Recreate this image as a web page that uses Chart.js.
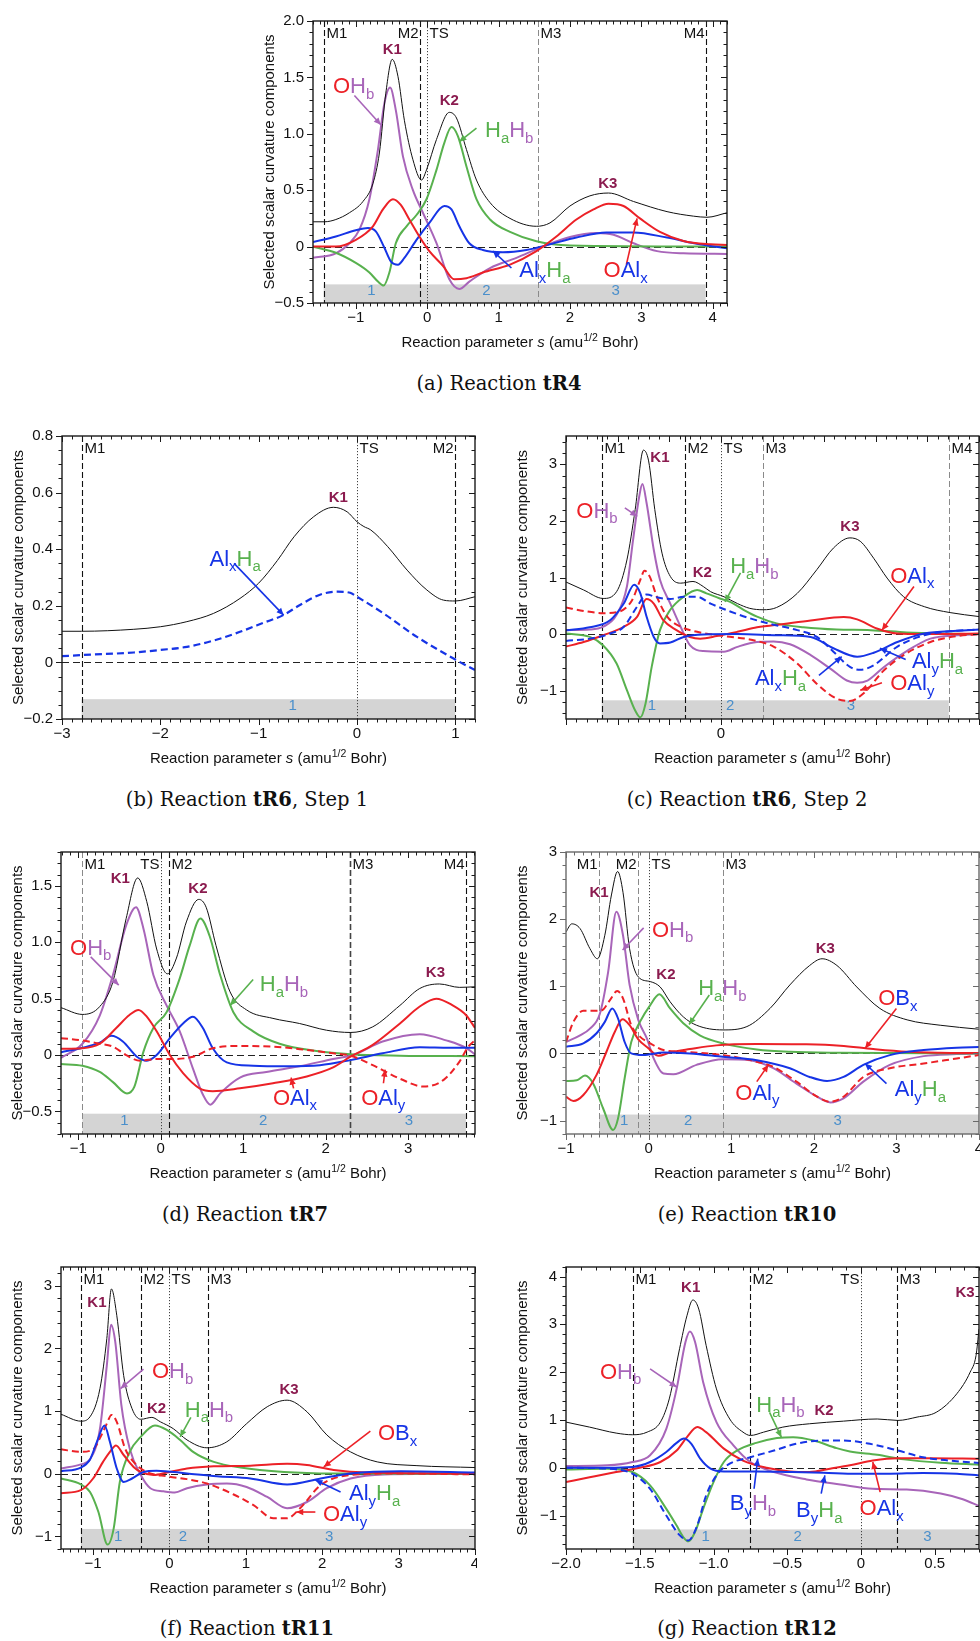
<!DOCTYPE html>
<html><head><meta charset="utf-8">
<script src="https://cdn.jsdelivr.net/npm/chart.js@4.4.1/dist/chart.umd.min.js"></script>
<style>
html,body{margin:0;padding:0;background:#fff}
body{width:980px;height:1641px;position:relative;overflow:hidden}
canvas{position:absolute}
.cap{position:absolute;width:440px;text-align:center;font-family:"DejaVu Serif","Liberation Serif",serif;font-size:19.5px;line-height:24px;color:#111;white-space:nowrap}
</style></head><body>
<script>
// ---------------- data ----------------
// (a) tR4
const aTotS=[-1.6,-1.44,-1.28,-1.09,-0.9,-0.76,-0.67,-0.58,-0.49,-0.41,-0.32,-0.2,-0.08,-0.01,0.13,0.31,0.41,0.55,0.69,0.88,1.16,1.53,1.72,2.0,2.28,2.54,2.89,3.36,3.73,3.92,4.2];
const aTotV=[0.22,0.22,0.24,0.30,0.40,0.56,0.83,1.36,1.66,1.51,1.12,0.77,0.59,0.68,0.95,1.19,1.14,0.86,0.59,0.39,0.25,0.18,0.21,0.36,0.45,0.475,0.40,0.31,0.27,0.26,0.30];
const aOHbS=[-1.6,-1.28,-1.09,-0.95,-0.81,-0.69,-0.6,-0.52,-0.44,-0.34,-0.2,-0.06,0.13,0.31,0.45,0.59,0.88,1.25,1.62,2.0,2.37,2.61,2.89,3.22,3.59,4.2];
const aOHbV=[-0.10,-0.06,0.03,0.15,0.42,0.86,1.27,1.41,1.21,0.80,0.50,0.30,0.03,-0.29,-0.375,-0.31,-0.19,-0.10,0.0,0.085,0.12,0.105,0.03,-0.04,-0.06,-0.065];
const aHHS=[-1.6,-1.28,-1.0,-0.81,-0.69,-0.61,-0.53,-0.44,-0.29,-0.15,-0.01,0.13,0.24,0.34,0.43,0.55,0.69,0.88,1.16,1.53,2.0,4.2];
const aHHV=[0,-0.055,-0.145,-0.23,-0.31,-0.345,-0.23,0.03,0.18,0.28,0.42,0.68,0.92,1.06,0.98,0.71,0.42,0.24,0.13,0.047,0.01,0];
const aAlHS=[-1.6,-1.28,-1.0,-0.83,-0.72,-0.6,-0.51,-0.41,-0.32,-0.15,0.03,0.24,0.34,0.45,0.59,0.78,1.06,1.39,1.72,2.09,2.51,2.89,3.36,3.82,4.2];
const aAlHV=[0.04,0.09,0.145,0.165,0.135,-0.01,-0.13,-0.16,-0.10,0.06,0.21,0.36,0.33,0.18,0.03,-0.03,-0.05,-0.03,0.02,0.08,0.125,0.125,0.08,0.02,-0.015];
const aOAlS=[-1.6,-1.28,-1.0,-0.76,-0.62,-0.48,-0.37,-0.25,-0.11,0.03,0.22,0.38,0.55,0.78,1.16,1.53,1.81,2.09,2.33,2.54,2.75,2.98,3.26,3.59,3.97,4.2];
const aOAlV=[0,0,0.06,0.18,0.33,0.42,0.37,0.24,0.09,-0.04,-0.17,-0.29,-0.28,-0.23,-0.16,-0.04,0.09,0.24,0.33,0.38,0.36,0.25,0.13,0.05,0.02,0.015];
const aXT=[-1,0,1,2,3,4], aXL=['−1','0','1','2','3','4'];
const aYT=[-0.5,0,0.5,1.0,1.5,2.0], aYL=['−0.5','0','0.5','1.0','1.5','2.0'];

// (b) tR6 step 1
const bTotS=[-3,-2.8,-2.27,-2.0,-1.73,-1.46,-1.19,-1.0,-0.81,-0.64,-0.44,-0.24,-0.1,0,0.07,0.14,0.31,0.51,0.71,0.88,1.0,1.2];
const bTotV=[0.11,0.11,0.117,0.126,0.144,0.173,0.226,0.28,0.36,0.444,0.515,0.548,0.532,0.497,0.48,0.468,0.41,0.326,0.256,0.22,0.217,0.232];
const bAlHS=[-3,-2.8,-2.27,-2.0,-1.73,-1.46,-1.19,-0.95,-0.75,-0.58,-0.37,-0.2,-0.07,0,0.27,0.61,1.0,1.2];
const bAlHV=[0.022,0.026,0.035,0.044,0.055,0.077,0.108,0.14,0.167,0.203,0.24,0.25,0.246,0.232,0.173,0.09,0.01,-0.027];
const bXT=[-3,-2,-1,0,1], bXL=['−3','−2','−1','0','1'];
const bYT=[-0.2,0,0.2,0.4,0.6,0.8], bYL=['−0.2','0','0.2','0.4','0.6','0.8'];

// (c) tR6 step 2
const cTotS=[-1.5,-1.33,-1.14,-1.01,-0.91,-0.83,-0.75,-0.70,-0.64,-0.57,-0.49,-0.39,-0.27,-0.17,-0.10,0.03,0.16,0.28,0.41,0.54,0.74,0.93,1.09,1.25,1.35,1.48,1.61,1.77,1.97,2.22,2.5];
const cTotV=[0.92,0.78,0.63,0.75,1.31,2.2,3.25,3.06,2.2,1.43,1.02,0.90,0.93,0.84,0.75,0.66,0.54,0.455,0.43,0.47,0.72,1.14,1.52,1.70,1.64,1.34,0.99,0.66,0.485,0.38,0.31];
const cOHbS=[-1.5,-1.27,-1.14,-1.01,-0.91,-0.85,-0.79,-0.76,-0.72,-0.65,-0.59,-0.49,-0.39,-0.30,-0.17,0.03,0.16,0.35,0.51,0.67,0.87,1.06,1.22,1.32,1.42,1.58,1.80,2.03,2.29,2.5];
const cOHbV=[0.07,0.08,0.13,0.34,0.84,1.67,2.44,2.65,2.32,1.49,0.96,0.54,0.13,-0.195,-0.30,-0.31,-0.225,-0.14,-0.13,-0.18,-0.37,-0.61,-0.82,-0.86,-0.82,-0.58,-0.30,-0.08,-0.02,0];
const cHHS=[-1.5,-1.27,-1.14,-1.01,-0.91,-0.83,-0.78,-0.73,-0.67,-0.59,-0.49,-0.36,-0.23,-0.14,-0.01,0.09,0.22,0.35,0.54,0.80,1.12,1.45,1.80,2.13,2.5];
const cHHV=[0.01,-0.05,-0.2,-0.52,-0.99,-1.35,-1.47,-1.23,-0.58,0.07,0.43,0.66,0.78,0.72,0.63,0.57,0.43,0.31,0.19,0.12,0.08,0.07,0.03,0.01,0];
const cOAlxS=[-1.5,-1.33,-1.14,-0.94,-0.81,-0.72,-0.65,-0.56,-0.43,-0.30,-0.20,-0.04,0.16,0.35,0.61,0.87,1.19,1.32,1.51,1.71,1.97,2.5];
const cOAlxV=[-0.22,-0.14,-0.02,0.13,0.31,0.62,0.54,0.25,0.07,-0.05,-0.08,-0.035,0.04,0.12,0.18,0.24,0.30,0.26,0.10,0.01,0,0.01];
const cOAlyS=[-1.5,-1.33,-1.14,-0.98,-0.86,-0.78,-0.74,-0.69,-0.62,-0.52,-0.39,-0.23,0.03,0.28,0.51,0.74,0.93,1.12,1.25,1.38,1.58,1.77,2.03,2.29,2.5];
const cOAlyV=[0.47,0.41,0.37,0.40,0.60,0.96,1.12,1.02,0.66,0.31,0.13,0.04,-0.035,-0.095,-0.22,-0.52,-0.88,-1.14,-1.18,-1.05,-0.64,-0.37,-0.14,-0.035,0];
const cAlyS=[-1.5,-1.27,-1.07,-0.94,-0.84,-0.78,-0.72,-0.65,-0.59,-0.49,-0.36,-0.17,0.16,0.54,0.87,1.09,1.32,1.48,1.71,1.97,2.29,2.5];
const cAlyV=[0.07,0.12,0.25,0.54,0.87,0.72,0.31,-0.05,-0.165,-0.15,-0.05,-0.005,0,-0.02,-0.05,-0.25,-0.40,-0.33,-0.14,0.01,0.06,0.08];
const cAlxS=[-1.5,-1.27,-1.07,-0.94,-0.81,-0.72,-0.62,-0.49,-0.36,-0.23,-0.10,0.09,0.28,0.48,0.74,0.93,1.09,1.25,1.35,1.48,1.71,1.97,2.29,2.5];
const cAlxV=[-0.12,-0.08,0.01,0.13,0.49,0.70,0.65,0.62,0.66,0.66,0.54,0.40,0.28,0.18,0.07,-0.05,-0.31,-0.58,-0.63,-0.55,-0.22,-0.02,0.06,0.08];
const cXT=[0], cXL=['0'];
const cYT=[-1,0,1,2,3], cYL=['−1','0','1','2','3'];

// (d) tR7
const dTotS=[-1.21,-0.95,-0.74,-0.58,-0.42,-0.28,-0.17,-0.05,0.08,0.19,0.31,0.46,0.55,0.67,0.84,1.04,1.36,1.68,2.01,2.30,2.57,2.90,3.14,3.38,3.62,3.81];
const dTotV=[0.42,0.36,0.43,0.65,1.21,1.57,1.36,0.94,0.72,0.86,1.18,1.38,1.31,0.97,0.56,0.40,0.325,0.28,0.22,0.20,0.25,0.44,0.59,0.63,0.60,0.605];
const dOHbS=[-1.21,-0.95,-0.74,-0.58,-0.42,-0.30,-0.21,-0.09,0.07,0.23,0.39,0.51,0.60,0.72,0.96,1.28,1.68,2.09,2.33,2.69,3.14,3.46,3.71,3.81];
const dOHbV=[-0.025,0.10,0.35,0.71,1.15,1.31,1.12,0.71,0.44,0.21,-0.12,-0.35,-0.44,-0.34,-0.20,-0.15,-0.10,-0.035,0,0.12,0.185,0.13,0.06,0.005];
const dHHS=[-1.21,-0.95,-0.74,-0.58,-0.41,-0.32,-0.21,-0.09,0.07,0.23,0.35,0.48,0.59,0.72,0.88,1.12,1.44,1.89,2.30,2.90,3.81];
const dHHV=[-0.08,-0.095,-0.15,-0.24,-0.34,-0.28,0.03,0.24,0.38,0.68,0.97,1.21,1.06,0.71,0.38,0.21,0.10,0.035,0.006,-0.006,-0.01];
const dAlS=[-1.21,-0.95,-0.74,-0.60,-0.46,-0.29,-0.17,-0.05,0.11,0.27,0.39,0.51,0.63,0.80,1.12,1.52,1.93,2.30,2.69,3.14,3.50,3.81];
const dAlV=[0.025,0.065,0.11,0.17,0.12,-0.015,-0.05,0,0.15,0.28,0.34,0.24,0.06,-0.065,-0.095,-0.10,-0.09,-0.045,0.015,0.07,0.065,0.065];
const dOAlxS=[-1.21,-0.95,-0.74,-0.54,-0.38,-0.27,-0.17,-0.05,0.11,0.27,0.47,0.63,0.96,1.36,1.77,2.09,2.30,2.57,2.90,3.14,3.34,3.54,3.70,3.81];
const dOAlxV=[0.055,0.06,0.10,0.24,0.355,0.40,0.34,0.21,0,-0.16,-0.295,-0.32,-0.295,-0.25,-0.19,-0.11,-0.015,0.09,0.28,0.43,0.50,0.44,0.355,0.24];
const dOAlyS=[-1.21,-0.95,-0.74,-0.58,-0.42,-0.25,-0.05,0.15,0.39,0.63,0.96,1.36,1.77,2.09,2.30,2.57,2.90,3.19,3.43,3.62,3.73,3.81];
const dOAlyV=[0.15,0.13,0.10,0.075,0,-0.05,-0.035,-0.035,-0.015,0.06,0.08,0.075,0.045,0.015,-0.005,-0.09,-0.21,-0.28,-0.22,-0.06,0.075,0.13];
const dXT=[-1,0,1,2,3], dXL=['−1','0','1','2','3'];
const dYT=[-0.5,0,0.5,1.0,1.5], dYL=['−0.5','0','0.5','1.0','1.5'];

// (e) tR10
const eTotS=[-1.0,-0.93,-0.83,-0.71,-0.62,-0.53,-0.45,-0.375,-0.31,-0.23,-0.125,0.02,0.14,0.26,0.42,0.58,0.90,1.19,1.47,1.71,1.95,2.10,2.28,2.52,2.80,3.13,3.53,4.0];
const eTotV=[1.81,1.93,1.86,1.56,1.41,1.76,2.36,2.71,2.40,1.56,1.14,1.07,0.99,0.77,0.545,0.42,0.35,0.40,0.67,1.02,1.31,1.41,1.31,0.99,0.67,0.50,0.42,0.36];
const eOHbS=[-1.0,-0.83,-0.71,-0.59,-0.49,-0.39,-0.31,-0.23,-0.125,-0.02,0.06,0.18,0.30,0.58,0.90,1.23,1.51,1.79,2.04,2.20,2.36,2.60,2.92,3.33,3.73,4.0];
const eOHbV=[0.17,0.27,0.37,0.59,1.21,2.11,1.76,1.02,0.50,0.22,-0.07,-0.30,-0.31,-0.17,-0.085,-0.10,-0.22,-0.45,-0.645,-0.73,-0.67,-0.42,-0.17,-0.04,-0.01,0];
const eHHS=[-1.0,-0.87,-0.77,-0.67,-0.55,-0.43,-0.37,-0.29,-0.21,-0.105,0.02,0.13,0.26,0.42,0.62,0.90,1.31,1.71,2.32,4.0];
const eHHV=[-0.41,-0.40,-0.33,-0.45,-0.82,-1.14,-0.97,-0.37,0.17,0.47,0.72,0.88,0.67,0.45,0.27,0.15,0.06,0.025,0.01,0];
const eOBxS=[-1.0,-0.91,-0.79,-0.63,-0.51,-0.41,-0.315,-0.23,-0.125,0,0.12,0.26,0.50,0.82,1.31,1.91,2.32,2.72,3.13,3.53,4.0];
const eOBxV=[-0.645,-0.71,-0.62,-0.32,0.025,0.32,0.51,0.42,0.21,0.075,-0.035,0.015,0.065,0.12,0.14,0.135,0.115,0.065,0.025,0.01,0.005];
const eOAlyS=[-1.0,-0.91,-0.79,-0.67,-0.57,-0.47,-0.38,-0.31,-0.21,-0.105,0.02,0.18,0.42,0.90,1.23,1.51,1.79,2.04,2.20,2.36,2.60,2.92,3.33,3.73,4.0];
const eOAlyV=[0.17,0.47,0.635,0.635,0.64,0.79,0.93,0.82,0.42,0.25,0.15,0.05,0.025,-0.025,-0.10,-0.20,-0.42,-0.645,-0.72,-0.645,-0.35,-0.22,-0.15,-0.075,-0.025];
const eAlyS=[-1.0,-0.79,-0.63,-0.53,-0.44,-0.37,-0.29,-0.21,-0.065,0.18,0.50,0.90,1.31,1.71,1.95,2.16,2.36,2.60,2.92,3.33,3.73,4.0];
const eAlyV=[0.10,0.15,0.30,0.47,0.67,0.52,0.17,0,-0.025,0.015,0,-0.05,-0.10,-0.22,-0.35,-0.41,-0.35,-0.17,-0.025,0.05,0.085,0.095];
const eXT=[-1,0,1,2,3,4], eXL=['−1','0','1','2','3','4'];
const eYT=[-1,0,1,2,3], eYL=['−1','0','1','2','3'];

// (f) tR11
const fTotS=[-1.42,-1.16,-1.04,-0.91,-0.82,-0.76,-0.69,-0.60,-0.49,-0.376,-0.23,-0.12,0.05,0.23,0.49,0.75,1.01,1.28,1.54,1.80,2.06,2.37,2.72,3.24,4.0];
const fTotV=[0.95,0.84,0.91,1.36,2.16,2.95,2.53,1.57,1.04,0.87,0.90,0.83,0.72,0.54,0.415,0.51,0.80,1.07,1.175,0.99,0.62,0.35,0.19,0.13,0.10];
const fOHbS=[-1.42,-1.16,-1.04,-0.91,-0.82,-0.765,-0.71,-0.63,-0.52,-0.376,-0.25,-0.08,0.07,0.23,0.49,0.75,1.01,1.28,1.54,1.80,2.06,2.37,2.81,4.0];
const fOHbV=[0.085,0.15,0.23,0.72,1.73,2.38,2.11,1.10,0.40,-0.02,-0.23,-0.28,-0.30,-0.23,-0.17,-0.155,-0.21,-0.37,-0.55,-0.45,-0.23,-0.075,-0.01,0];
const fHHS=[-1.42,-1.16,-1.04,-0.93,-0.81,-0.73,-0.65,-0.52,-0.376,-0.19,-0.035,0.14,0.31,0.58,0.93,1.50,2.15,4.0];
const fHHV=[-0.075,-0.17,-0.29,-0.61,-1.13,-0.87,-0.13,0.35,0.59,0.77,0.70,0.54,0.35,0.19,0.10,0.03,0.005,0];
const fOBxS=[-1.42,-1.16,-1.0,-0.87,-0.78,-0.70,-0.60,-0.47,-0.376,-0.21,-0.035,0.23,0.58,1.06,1.54,1.80,2.15,2.59,4.0];
const fOBxV=[-0.31,-0.26,-0.075,0.19,0.35,0.45,0.30,0.11,0.03,-0.02,0.02,0.085,0.12,0.13,0.16,0.14,0.06,0.02,0.005];
const fOAlyS=[-1.42,-1.16,-1.0,-0.89,-0.82,-0.76,-0.69,-0.58,-0.47,-0.30,-0.035,0.23,0.49,0.84,1.10,1.36,1.54,1.71,1.98,2.37,3.03,4.0];
const fOAlyV=[0.39,0.35,0.39,0.62,0.80,0.94,0.83,0.40,0.19,0.03,-0.04,-0.085,-0.155,-0.33,-0.50,-0.71,-0.71,-0.55,-0.18,-0.02,0.005,-0.01];
const fAlyS=[-1.42,-1.16,-1.04,-0.95,-0.85,-0.78,-0.69,-0.60,-0.49,-0.34,-0.17,0.23,0.62,1.06,1.54,1.98,2.37,3.03,4.0];
const fAlyV=[0.04,0.10,0.23,0.51,0.77,0.51,0.085,-0.13,-0.075,0.03,0.05,0.005,-0.04,-0.075,-0.17,-0.075,0.005,0.04,0.02];
const fXT=[-1,0,1,2,3,4], fXL=['−1','0','1','2','3','4'];
const fYT=[-1,0,1,2,3], fYL=['−1','0','1','2','3'];

// (g) tR12
const gTotS=[-2.0,-1.84,-1.66,-1.55,-1.45,-1.36,-1.30,-1.23,-1.18,-1.14,-1.10,-1.05,-0.98,-0.89,-0.80,-0.75,-0.66,-0.53,-0.35,-0.12,0.11,0.25,0.38,0.51,0.65,0.74,0.78,0.80];
const gTotV=[0.955,0.85,0.725,0.69,0.745,0.955,1.44,2.49,3.18,3.51,3.32,2.56,1.65,1.02,0.745,0.675,0.745,0.85,0.92,0.975,1.02,0.99,1.06,1.16,1.55,2.0,2.35,2.9];
const gOHbS=[-2.0,-1.72,-1.55,-1.43,-1.32,-1.25,-1.19,-1.16,-1.125,-1.07,-0.98,-0.865,-0.75,-0.59,-0.37,-0.14,0.08,0.31,0.54,0.69,0.80];
const gOHbV=[0.035,0.05,0.12,0.26,0.815,1.65,2.63,2.85,2.63,1.79,0.955,0.47,0.12,-0.09,-0.245,-0.35,-0.44,-0.455,-0.54,-0.66,-0.80];
const gHHS=[-2.0,-1.72,-1.55,-1.43,-1.32,-1.25,-1.205,-1.17,-1.125,-1.07,-1.0,-0.93,-0.84,-0.71,-0.57,-0.46,-0.32,-0.165,-0.075,0.11,0.29,0.54,0.80];
const gHHV=[-0.035,-0.02,-0.09,-0.37,-0.86,-1.21,-1.45,-1.54,-1.345,-0.86,-0.30,0.12,0.36,0.52,0.62,0.64,0.57,0.41,0.34,0.27,0.175,0.105,0.065];
const gByHbS=[-2.0,-1.72,-1.55,-1.43,-1.32,-1.23,-1.17,-1.11,-1.05,-0.98,-0.89,-0.75,-0.59,-0.44,-0.255,-0.12,0.06,0.25,0.42,0.60,0.80];
const gByHbV=[0,-0.02,-0.125,-0.44,-1.0,-1.41,-1.52,-1.205,-0.58,-0.16,0.085,0.22,0.36,0.50,0.57,0.57,0.50,0.36,0.22,0.15,0.10];
const gByHaS=[-2.0,-1.72,-1.55,-1.43,-1.32,-1.25,-1.20,-1.15,-1.09,-1.02,-0.93,-0.71,-0.48,-0.255,-0.03,0.20,0.42,0.65,0.80];
const gByHaV=[0,0,0.015,0.12,0.33,0.52,0.61,0.50,0.19,-0.02,-0.077,-0.077,-0.09,-0.105,-0.125,-0.125,-0.11,-0.125,-0.16];
const gOAlxS=[-2.0,-1.84,-1.66,-1.50,-1.36,-1.25,-1.18,-1.11,-1.05,-0.93,-0.80,-0.64,-0.48,-0.35,-0.21,-0.075,0.08,0.25,0.47,0.80];
const gOAlxV=[-0.30,-0.20,-0.09,0,0.12,0.36,0.64,0.85,0.745,0.40,0.15,0,-0.077,-0.09,-0.02,0.05,0.15,0.20,0.20,0.19];
const gXT=[-2,-1.5,-1,-0.5,0,0.5], gXL=['−2.0','−1.5','−1.0','−0.5','0','0.5'];
const gYT=[-1,0,1,2,3,4], gYL=['−1','0','1','2','3','4'];

// ---------------- styling ----------------
const RED='#ec2127', PURPLE='#a865b9', GREEN='#58b14e', BLUE='#1634e6', BLACK='#111111';
const KCOL='#8b1b4f', NCOL='#4a8fcb', BAND='#d4d4d4';
const SANS='"Liberation Sans", Arial, Helvetica, sans-serif';
const YTITLE='Selected scalar curvature components';

const S=(s,v,c,w,d)=>({s,v,c,w,d});
const panels=[
 {plot:[313,21,727,303],x:[-1.6,4.2],y:[-0.5,2.0],xt:aXT,xl:aXL,yt:aYT,yl:aYL,xM:1,xm:0.1,yM:0.5,ym:0.1,
  series:[S(aTotS,aTotV,BLACK,1),S(aOAlS,aOAlV,RED,2),S(aAlHS,aAlHV,BLUE,2),S(aHHS,aHHV,GREEN,2),S(aOHbS,aOHbV,PURPLE,2)],
  vl:[[-1.45,'M1','r','k'],[-0.10,'M2','l','k'],[0,'TS','r','dot'],[1.555,'M3','r','g'],[3.90,'M4','l','k']],
  band:{x1:-1.45,x2:3.90,top:-0.335,ny:-0.39,nums:[[-0.78,'1'],[0.83,'2'],[2.64,'3']]},
  K:[[-0.49,1.745,'K1'],[0.31,1.29,'K2'],[2.53,0.555,'K3']],
  lab:[['O H_b',-1.32,1.43,[-1.02,1.34,-0.65,1.08],PURPLE],['H_a H_b',0.81,1.04,[0.69,1.05,0.45,0.93],GREEN],
       ['Al_x H_a',1.29,-0.2,[1.18,-0.19,0.92,-0.04],BLUE],['O Al_x',2.47,-0.2,[2.79,-0.16,2.94,0.25],RED]]},
 {plot:[62,436,475,719],x:[-3,1.2],y:[-0.2,0.8],xt:bXT,xl:bXL,yt:bYT,yl:bYL,xM:1,xm:0.1,yM:0.2,ym:0.05,
  series:[S(bTotS,bTotV,BLACK,1),S(bAlHS,bAlHV,BLUE,2.2,true)],
  vl:[[-2.8,'M1','r','k'],[0,'TS','r','dot'],[1.0,'M2','l','k']],
  band:{x1:-2.8,x2:1.0,top:-0.13,ny:-0.152,nums:[[-0.654,'1']]},
  K:[[-0.19,0.583,'K1']],
  lab:[['Al_x H_a',-1.5,0.37,[-1.25,0.35,-0.746,0.167],BLUE]]},
 {plot:[566,436,979,719],x:[-1.5,2.5],y:[-1.5,3.5],xt:cXT,xl:cXL,yt:cYT,yl:cYL,xM:0.5,xm:0.1,yM:1,ym:0.2,
  series:[S(cTotS,cTotV,BLACK,1),S(cAlyS,cAlyV,BLUE,2),S(cAlxS,cAlxV,BLUE,2,true),S(cOAlxS,cOAlxV,RED,2),S(cOAlyS,cOAlyV,RED,2,true),S(cHHS,cHHV,GREEN,2),S(cOHbS,cOHbV,PURPLE,2)],
  vl:[[-1.154,'M1','r','k'],[-0.349,'M2','r','k'],[0,'TS','r','dot'],[0.407,'M3','r','g'],[2.207,'M4','r','g']],
  band:{x1:-1.154,x2:2.207,top:-1.17,ny:-1.27,nums:[[-0.669,'1'],[0.09,'2'],[1.26,'3']]},
  K:[[-0.59,3.12,'K1'],[-0.18,1.09,'K2'],[1.25,1.89,'K3']],
  lab:[['O H_b',-1.40,2.20,[-0.93,2.23,-0.81,2.08],PURPLE],['H_a H_b',0.09,1.22,[0.19,1.08,0.04,0.57],GREEN],
       ['O Al_x',1.64,1.05,[1.87,0.84,1.56,0.07],RED],['Al_y H_a',1.85,-0.46,[1.79,-0.45,1.54,-0.25],BLUE],
       ['Al_x H_a',0.33,-0.76,[0.95,-0.73,1.17,-0.40],BLUE],['O Al_y',1.64,-0.85,[1.56,-0.86,1.35,-0.99],RED]]},
 {plot:[61,852,475,1134],x:[-1.21,3.81],y:[-0.7,1.8],xt:dXT,xl:dXL,yt:dYT,yl:dYL,xM:1,xm:0.1,yM:0.5,ym:0.1,
  series:[S(dTotS,dTotV,BLACK,1),S(dOAlyS,dOAlyV,RED,2,true),S(dOAlxS,dOAlxV,RED,2),S(dAlS,dAlV,BLUE,2),S(dHHS,dHHV,GREEN,2),S(dOHbS,dOHbV,PURPLE,2)],
  vl:[[-0.95,'M1','r','g'],[0,'TS','l','dot'],[0.10,'M2','r','k'],[2.30,'M3','r','k2'],[3.70,'M4','l','k']],
  band:{x1:-0.95,x2:3.70,top:-0.52,ny:-0.585,nums:[[-0.44,'1'],[1.24,'2'],[3.01,'3']]},
  K:[[-0.49,1.565,'K1'],[0.45,1.47,'K2'],[3.33,0.73,'K3']],
  lab:[['O H_b',-1.10,0.96,[-0.85,0.87,-0.51,0.62],PURPLE],['H_a H_b',1.20,0.635,[1.12,0.67,0.84,0.44],GREEN],
       ['O Al_x',1.36,-0.37,[1.61,-0.295,1.58,-0.2],RED],['O Al_y',2.43,-0.37,[2.70,-0.25,2.72,-0.13],RED]]},
 {plot:[566,852,979,1134],x:[-1,4],y:[-1.2,3],xt:eXT,xl:eXL,yt:eYT,yl:eYL,xM:1,xm:0.1,yM:1,ym:0.2,frame:'#6a6a6a',
  series:[S(eTotS,eTotV,BLACK,1),S(eAlyS,eAlyV,BLUE,2),S(eOBxS,eOBxV,RED,2),S(eOAlyS,eOAlyV,RED,2,true),S(eHHS,eHHV,GREEN,2),S(eOHbS,eOHbV,PURPLE,2)],
  vl:[[-0.60,'M1','l','g'],[-0.125,'M2','l','g'],[0,'TS','r','dot'],[0.90,'M3','r','g']],
  band:{x1:-0.60,x2:4.0,top:-0.91,ny:-1.0,nums:[[-0.295,'1'],[0.48,'2'],[2.29,'3']]},
  K:[[-0.60,2.39,'K1'],[0.21,1.165,'K2'],[2.14,1.55,'K3']],
  lab:[['O H_b',0.04,1.86,[-0.06,1.87,-0.315,1.54],PURPLE],['H_a H_b',0.60,0.99,[0.735,0.87,0.49,0.43],GREEN],
       ['O B_x',2.78,0.84,[3.0,0.67,2.62,0.075],RED],['O Al_y',1.05,-0.57,[1.31,-0.42,1.45,-0.17],RED],
       ['Al_y H_a',2.98,-0.52,[2.88,-0.45,2.62,-0.15],BLUE]]},
 {plot:[61,1267,475,1549],x:[-1.42,4.0],y:[-1.2,3.3],xt:fXT,xl:fXL,yt:fYT,yl:fYL,xM:1,xm:0.1,yM:1,ym:0.2,
  series:[S(fTotS,fTotV,BLACK,1),S(fAlyS,fAlyV,BLUE,2),S(fOBxS,fOBxV,RED,2),S(fOAlyS,fOAlyV,RED,2,true),S(fHHS,fHHV,GREEN,2),S(fOHbS,fOHbV,PURPLE,2)],
  vl:[[-1.16,'M1','r','k'],[-0.376,'M2','r','k'],[0,'TS','r','dot'],[0.50,'M3','r','k']],
  band:{x1:-1.16,x2:4.0,top:-0.88,ny:-1.0,nums:[[-0.67,'1'],[0.175,'2'],[2.09,'3']]},
  K:[[-0.95,2.72,'K1'],[-0.17,1.04,'K2'],[1.565,1.335,'K3']],
  lab:[['O H_b',-0.23,1.65,[-0.34,1.67,-0.64,1.36],PURPLE],['H_a H_b',0.2,1.04,[0.28,0.90,0.14,0.59],GREEN],
       ['O B_x',2.73,0.67,[2.63,0.68,2.02,0.11],RED],['Al_y H_a',2.35,-0.29,[2.24,-0.29,1.91,-0.10],BLUE],
       ['O Al_y',2.01,-0.63,[1.91,-0.61,1.66,-0.61],RED]]},
 {plot:[566,1267,979,1549],x:[-2.0,0.8],y:[-1.7,4.2],xt:gXT,xl:gXL,yt:gYT,yl:gYL,xM:0.5,xm:0.1,yM:1,ym:0.2,
  series:[S(gTotS,gTotV,BLACK,1),S(gByHaS,gByHaV,BLUE,2),S(gByHbS,gByHbV,BLUE,2,true),S(gOAlxS,gOAlxV,RED,2),S(gHHS,gHHV,GREEN,2),S(gOHbS,gOHbV,PURPLE,2)],
  vl:[[-1.548,'M1','r','k'],[-0.75,'M2','r','k'],[0,'TS','l','dot'],[0.246,'M3','r','k']],
  band:{x1:-1.548,x2:0.8,top:-1.29,ny:-1.45,nums:[[-1.053,'1'],[-0.43,'2'],[0.45,'3']]},
  K:[[-1.155,3.76,'K1'],[-0.25,1.18,'K2'],[0.705,3.65,'K3']],
  lab:[['O H_b',-1.77,2.03,[-1.43,2.07,-1.25,1.69],PURPLE],['H_a H_b',-0.71,1.34,[-0.62,1.16,-0.54,0.64],GREEN],
       ['B_y H_b',-0.89,-0.72,[-0.725,-0.44,-0.70,0.19],BLUE],['B_y H_a',-0.44,-0.86,[-0.27,-0.54,-0.245,-0.16],BLUE],
       ['O Al_x',-0.01,-0.82,[0.13,-0.51,0.08,0.12],RED]]}
];
const captions=[
 [499,384,'(a) Reaction <b>tR4</b>'],[247,800,'(b) Reaction <b>tR6</b>, Step 1'],[747,800,'(c) Reaction <b>tR6</b>, Step 2'],
 [245,1215,'(d) Reaction <b>tR7</b>'],[747,1215,'(e) Reaction <b>tR10</b>'],[247,1629,'(f) Reaction <b>tR11</b>'],[747,1629,'(g) Reaction <b>tR12</b>']
];

// ---------------- drawing helpers ----------------
function segsOf(spec){
  const out=[];
  for(const tk of spec.split(' ')){
    const [base,sub]=tk.split('_');
    const c = base==='O'?RED:(base==='H'?(sub==='a'?GREEN:PURPLE):BLUE);
    out.push({t:base,c});
    if(sub) out.push({t:sub,c,sub:true});
  }
  return out;
}
function rich(ctx,segs,x,yb,size){
  let cx=x; ctx.textAlign='left'; ctx.textBaseline='alphabetic';
  for(const s of segs){
    const fs=s.sub?size*0.68:size;
    ctx.font=fs+'px '+SANS; ctx.fillStyle=s.c;
    ctx.fillText(s.t,cx,yb+(s.sub?size*0.26:0));
    cx+=ctx.measureText(s.t).width;
  }
}
function arrow(ctx,x1,y1,x2,y2,c){
  ctx.save(); ctx.strokeStyle=c; ctx.fillStyle=c; ctx.lineWidth=1.6; ctx.setLineDash([]);
  ctx.beginPath(); ctx.moveTo(x1,y1); ctx.lineTo(x2,y2); ctx.stroke();
  const a=Math.atan2(y2-y1,x2-x1), L=7, W=3.2;
  ctx.beginPath(); ctx.moveTo(x2,y2);
  ctx.lineTo(x2-L*Math.cos(a)+W*Math.sin(a),y2-L*Math.sin(a)-W*Math.cos(a));
  ctx.lineTo(x2-L*Math.cos(a)-W*Math.sin(a),y2-L*Math.sin(a)+W*Math.cos(a));
  ctx.closePath(); ctx.fill(); ctx.restore();
}
function steps(min,max,st){
  const r=[]; const i0=Math.ceil(min/st-1e-7), i1=Math.floor(max/st+1e-7);
  for(let i=i0;i<=i1;i++) r.push(+(i*st).toFixed(6)); return r;
}
function isMajor(v,M){const q=v/M; return Math.abs(q-Math.round(q))<1e-6;}

function deco(P){
  return {
    id:'deco',
    beforeDatasetsDraw(chart){
      const ctx=chart.ctx, xs=chart.scales.x, ys=chart.scales.y, a=chart.chartArea;
      ctx.save();
      const b=P.band, bx1=xs.getPixelForValue(b.x1), bx2=xs.getPixelForValue(b.x2), by=ys.getPixelForValue(b.top);
      ctx.fillStyle=BAND; ctx.fillRect(bx1,by,bx2-bx1,a.bottom-by);
      ctx.font='15px '+SANS; ctx.fillStyle=NCOL; ctx.textAlign='center'; ctx.textBaseline='middle';
      for(const [nx,nt] of b.nums) ctx.fillText(nt,xs.getPixelForValue(nx),ys.getPixelForValue(b.ny));
      ctx.strokeStyle='#222'; ctx.lineWidth=1; ctx.setLineDash([7,4]);
      const y0=Math.round(ys.getPixelForValue(0))+0.5;
      ctx.beginPath(); ctx.moveTo(a.left,y0); ctx.lineTo(a.right,y0); ctx.stroke();
      for(const [vx,t,side,st] of P.vl){
        const px=Math.round(xs.getPixelForValue(vx))+0.5;
        if(st==='dot'){ctx.strokeStyle='#444';ctx.lineWidth=1;ctx.setLineDash([1.2,1.8]);}
        else if(st==='g'){ctx.strokeStyle='#8a8a8a';ctx.lineWidth=1;ctx.setLineDash([6,3]);}
        else if(st==='k2'){ctx.strokeStyle='#444';ctx.lineWidth=1.6;ctx.setLineDash([6,3]);}
        else {ctx.strokeStyle='#111';ctx.lineWidth=1.1;ctx.setLineDash([6,3]);}
        ctx.beginPath(); ctx.moveTo(px,a.top); ctx.lineTo(px,a.bottom); ctx.stroke();
        ctx.setLineDash([]); ctx.fillStyle='#111'; ctx.font='15px '+SANS; ctx.textBaseline='middle';
        ctx.textAlign=side==='r'?'left':'right';
        ctx.fillText(t,px+(side==='r'?2:-2),a.top+13);
      }
      ctx.restore();
    },
    afterDatasetsDraw(chart){
      const ctx=chart.ctx, xs=chart.scales.x, ys=chart.scales.y, a=chart.chartArea;
      const X=v=>xs.getPixelForValue(v), Y=v=>ys.getPixelForValue(v);
      ctx.save(); ctx.setLineDash([]);
      const fc=P.frame||'#1a1a1a';
      ctx.strokeStyle=fc; ctx.lineWidth=1.4;
      ctx.strokeRect(a.left,a.top,a.right-a.left,a.bottom-a.top);
      ctx.lineWidth=1;
      for(const v of steps(P.x[0],P.x[1],P.xm)){
        const px=Math.round(X(v))+0.5, L=isMajor(v,P.xM)?6:3.5;
        ctx.beginPath(); ctx.moveTo(px,a.bottom); ctx.lineTo(px,a.bottom+L);
        ctx.moveTo(px,a.top); ctx.lineTo(px,a.top+L); ctx.stroke();
      }
      for(const v of steps(P.y[0],P.y[1],P.ym)){
        const py=Math.round(Y(v))+0.5, L=isMajor(v,P.yM)?6:3.5;
        ctx.beginPath(); ctx.moveTo(a.left-L,py); ctx.lineTo(a.left,py);
        ctx.moveTo(a.right-L,py); ctx.lineTo(a.right,py); ctx.stroke();
      }
      ctx.font='bold 15px '+SANS; ctx.fillStyle=KCOL; ctx.textAlign='center'; ctx.textBaseline='middle';
      for(const [kx,ky,kt] of P.K) ctx.fillText(kt,X(kx),Y(ky));
      for(const [spec,lx,ly,ar,ac] of P.lab){
        arrow(ctx,X(ar[0]),Y(ar[1]),X(ar[2]),Y(ar[3]),ac);
        rich(ctx,segsOf(spec),X(lx),Y(ly)+8,22);
      }
      ctx.fillStyle='#111'; ctx.font='15px '+SANS;
      const xt=[{t:'Reaction parameter '},{t:'s',it:true},{t:' (amu'},{t:'1/2',sup:true},{t:' Bohr)'}];
      const fnt=s=>(s.it?'italic ':'')+(s.sup?'10.5px ':'15px ')+SANS;
      let w=0; for(const s of xt){ctx.font=fnt(s); w+=ctx.measureText(s.t).width;}
      let cx=(a.left+a.right)/2-w/2; const by=a.bottom+44;
      ctx.textAlign='left'; ctx.textBaseline='alphabetic';
      for(const s of xt){ctx.font=fnt(s); ctx.fillText(s.t,cx,by-(s.sup?6:0)); cx+=ctx.measureText(s.t).width;}
      ctx.translate(a.left-43,(a.top+a.bottom)/2); ctx.rotate(-Math.PI/2);
      ctx.font='15px '+SANS; ctx.textAlign='center'; ctx.textBaseline='middle';
      ctx.fillText(YTITLE,0,0);
      ctx.restore();
    }
  };
}

const YW=62, XH=58, PT=10, PR=2;
panels.forEach(P=>{
  const [L,T,R,B]=P.plot;
  const cv=document.createElement('canvas');
  const W=(R-L)+YW+PR, H=(B-T)+PT+XH;
  cv.width=W; cv.height=H; cv.style.left=(L-YW)+'px'; cv.style.top=(T-PT)+'px';
  cv.style.width=W+'px'; cv.style.height=H+'px';
  document.body.appendChild(cv);
  const tickFont={family:SANS,size:15};
  new Chart(cv,{
    type:'line',
    data:{datasets:P.series.map(s=>({data:s.s.map((x,i)=>({x,y:s.v[i]})),borderColor:s.c,borderWidth:s.w,
      borderDash:s.d?[7,4]:[],pointRadius:0,fill:false,cubicInterpolationMode:'monotone'}))},
    options:{responsive:false,animation:false,events:[],devicePixelRatio:1,
      layout:{padding:{left:0,top:PT,right:PR,bottom:0}},
      plugins:{legend:{display:false},tooltip:{enabled:false}},
      scales:{
        x:{type:'linear',min:P.x[0],max:P.x[1],grid:{display:false,drawTicks:false},border:{display:false},
          afterBuildTicks:s=>{s.ticks=P.xt.map(v=>({value:v}));},
          afterFit:s=>{s.height=XH;s.paddingLeft=0;s.paddingRight=0;},
          ticks:{autoSkip:false,maxRotation:0,padding:6,color:'#111',font:tickFont,callback:(v,i)=>P.xl[i]}},
        y:{type:'linear',min:P.y[0],max:P.y[1],grid:{display:false,drawTicks:false},border:{display:false},
          afterBuildTicks:s=>{s.ticks=P.yt.map(v=>({value:v}));},
          afterFit:s=>{s.width=YW;s.paddingTop=0;s.paddingBottom=0;},
          ticks:{autoSkip:false,padding:9,color:'#111',font:tickFont,callback:(v,i)=>P.yl[i]}}
      }},
    plugins:[deco(P)]
  });
});
captions.forEach(([cx,cy,html])=>{
  const d=document.createElement('div'); d.className='cap';
  d.style.left=(cx-220)+'px'; d.style.top=(cy-12)+'px'; d.innerHTML=html;
  document.body.appendChild(d);
});
</script>
</body></html>
